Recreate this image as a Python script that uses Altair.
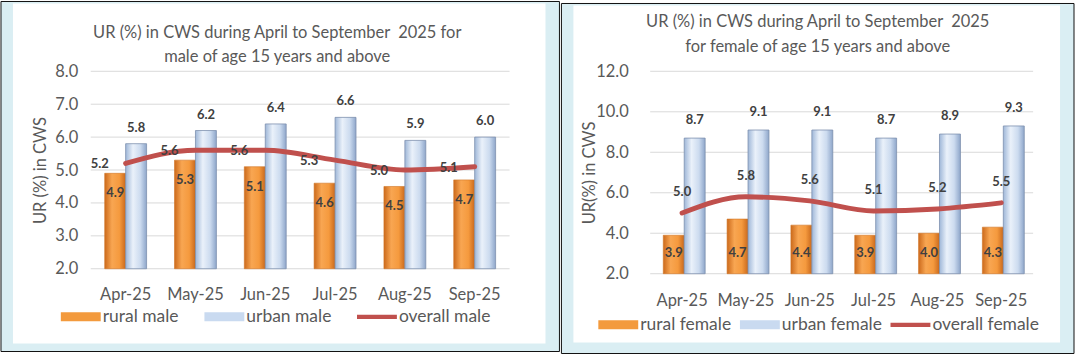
import altair as alt
import pandas as pd

months = ["Apr-25", "May-25", "Jun-25", "Jul-25", "Aug-25", "Sep-25"]

rural_male = [4.9, 5.3, 5.1, 4.6, 4.5, 4.7]
urban_male = [5.8, 6.2, 6.4, 6.6, 5.9, 6.0]
overall_male = [5.2, 5.6, 5.6, 5.3, 5.0, 5.1]

rural_female = [3.9, 4.7, 4.4, 3.9, 4.0, 4.3]
urban_female = [8.7, 9.1, 9.1, 8.7, 8.9, 9.3]
overall_female = [5.0, 5.8, 5.6, 5.1, 5.2, 5.5]

male_ticks = [2.0, 3.0, 4.0, 5.0, 6.0, 7.0, 8.0]
female_ticks = [2.0, 4.0, 6.0, 8.0, 10.0, 12.0]

male_names = ["rural male", "urban male", "overall male"]
female_names = ["rural female", "urban female", "overall female"]

male_title = ["UR (%) in CWS during April to September\u00a0 2025 for",
              "male of age 15 years and above"]
female_title = ["UR (%) in CWS during April to September\u00a0 2025",
                "for female of age 15 years and above"]

FONT = "Lato"
TXT = "#595959"
LBL = "#404040"
RED = "#C0504D"
GRID = "#D9D9D9"
FRAME_BG = "#DAEEF3"

rural_grad = alt.Gradient(
    gradient="linear", x1=0, x2=1, y1=0, y2=0,
    stops=[alt.GradientStop(color="#CC6A1C", offset=0),
           alt.GradientStop(color="#F8A652", offset=0.35),
           alt.GradientStop(color="#F59A3E", offset=0.7),
           alt.GradientStop(color="#C9691D", offset=1)])
urban_grad = alt.Gradient(
    gradient="linear", x1=0, x2=1, y1=0, y2=0,
    stops=[alt.GradientStop(color="#9FB7D8", offset=0),
           alt.GradientStop(color="#EAF1FA", offset=0.35),
           alt.GradientStop(color="#CCDBEF", offset=0.7),
           alt.GradientStop(color="#8EA6CA", offset=1)])

LEG_RECT = "M-2,-0.45H2V0.45H-2Z"
LEG_LINE = "M-2,-0.22H2V0.22H-2Z"


def one():
    return alt.Chart(pd.DataFrame({"a": [0]}))


def panel(rural, urban, overall, names, ydom, yticks, ytitle, title, g):
    rows = []
    for i, m in enumerate(months):
        rows.append({"month": m, "kind": "rural", "series": names[0], "value": rural[i]})
        rows.append({"month": m, "kind": "urban", "series": names[1], "value": urban[i]})
        rows.append({"month": m, "kind": "overall", "series": names[2], "value": overall[i]})
    df = pd.DataFrame(rows)
    base = alt.Chart(df)
    W, H = g["W"], g["H"]

    xenc = alt.X("month:N", sort=months,
                 scale=alt.Scale(paddingInner=g["pin"], paddingOuter=g["pin"] / 2),
                 axis=alt.Axis(title=None, labelAngle=0, domain=False, ticks=False,
                               labelPadding=g["xlp"], labelFont=FONT, labelFontSize=16.5,
                               labelColor=TXT, zindex=2))
    yscale = alt.Scale(domain=ydom, zero=False, nice=False)
    yaxis = alt.Axis(values=yticks, format=".1f", grid=False, domain=False, ticks=False,
                     title=ytitle, labelPadding=g["ylp"], labelFont=FONT, labelFontSize=16.5,
                     labelColor=TXT, titleFont=FONT, titleFontSize=16.5, titleColor=TXT,
                     titleFontWeight="normal", titleX=g["tx"], titleY=H / 2,
                     titleAngle=270, titleAlign="center", titleBaseline="middle",
                     zindex=2)
    yenc = alt.Y("value:Q", scale=yscale, axis=yaxis, title=ytitle)
    xoff = alt.XOffset("kind:N", scale=alt.Scale(domain=["rural", "urban"],
                                                 paddingInner=0, paddingOuter=0))

    o = g["outer"]
    outer = one().mark_rect(fill=FRAME_BG, stroke="#111111", strokeWidth=1).encode(
        x=alt.value(o[0]), x2=alt.value(o[1]), y=alt.value(o[2]), y2=alt.value(o[3]))
    w = g["inner"]
    inner = one().mark_rect(fill="white").encode(
        x=alt.value(w[0]), x2=alt.value(w[1]), y=alt.value(w[2]), y2=alt.value(w[3]))

    t1 = one().mark_text(text=title[0], font=FONT, fontSize=16.5, color=TXT,
                         align="center", baseline="middle").encode(
        x=alt.value(g["tcx"]), y=alt.value(g["t1y"]))
    t2 = one().mark_text(text=title[1], font=FONT, fontSize=16.5, color=TXT,
                         align="center", baseline="middle").encode(
        x=alt.value(g["tcx"]), y=alt.value(g["t2y"]))

    grid = alt.Chart(pd.DataFrame({"value": yticks})).mark_rule(
        color=GRID, strokeWidth=1).encode(
        y=yenc, x=alt.value(0), x2=alt.value(W))

    rbar = base.transform_filter(alt.datum.kind == "rural").mark_bar(
        fill=rural_grad, stroke="#D07424", strokeWidth=0.6).encode(
        x=xenc, xOffset=xoff, y=yenc, y2=alt.datum(ydom[0]))
    ubar = base.transform_filter(alt.datum.kind == "urban").mark_bar(
        fill=urban_grad, stroke="#7D91AE", strokeWidth=0.8).encode(
        x=xenc, xOffset=xoff, y=yenc, y2=alt.datum(ydom[0]))

    line = base.transform_filter(alt.datum.kind == "overall").mark_line(
        color=RED, strokeWidth=5, interpolate="monotone", strokeCap="round").encode(
        x=xenc, y=yenc)

    lab = dict(font=FONT, fontSize=13, fontWeight="bold", color=LBL,
               align="center", baseline="middle")
    if g["rural_at_base"]:
        rtxt = base.transform_filter(alt.datum.kind == "rural").mark_text(
            dy=g["rdy"], **lab).encode(
            x=xenc, xOffset=xoff, y=alt.datum(ydom[0]),
            text=alt.Text("value:Q", format=".1f"))
    else:
        rtxt = base.transform_filter(alt.datum.kind == "rural").mark_text(
            dy=g["rdy"], **lab).encode(
            x=xenc, xOffset=xoff, y=yenc, text=alt.Text("value:Q", format=".1f"))
    utxt = base.transform_filter(alt.datum.kind == "urban").mark_text(
        dy=g["udy"], **lab).encode(
        x=xenc, xOffset=xoff, y=yenc, text=alt.Text("value:Q", format=".1f"))
    otxt = base.transform_filter(alt.datum.kind == "overall").mark_text(
        dx=g["odx"], dy=g["ody"], **lab).encode(
        x=xenc, y=yenc, text=alt.Text("value:Q", format=".1f"))

    leg = alt.Legend(title=None, orient="none", legendX=g["lx"], legendY=g["ly"],
                     direction="horizontal", columns=3, symbolSize=400,
                     symbolOpacity=1, symbolStrokeWidth=0, labelFont=FONT,
                     labelFontSize=17.5, labelColor=TXT, labelOffset=12,
                     columnPadding=g["lcp"], labelLimit=0, zindex=2)
    legpts = base.mark_point(filled=True, opacity=0).encode(
        x=xenc, y=yenc,
        color=alt.Color("series:N", scale=alt.Scale(domain=names,
                        range=["#F39A3D", "#C9DAF0", RED]), legend=leg),
        shape=alt.Shape("series:N", scale=alt.Scale(domain=names,
                        range=[LEG_RECT, LEG_RECT, LEG_LINE]), legend=leg))

    return alt.layer(outer, inner, t1, t2, grid, rbar, ubar, line,
                     rtxt, utxt, otxt, legpts).properties(width=W, height=H)


left_geo = dict(W=420, H=198, pin=0.4, xlp=18, ylp=13, tx=-50,
                outer=(-90, 470, -70, 281), inner=(-78, 456, -68, 273),
                tcx=187, t1y=-38, t2y=-14,
                rural_at_base=False, rdy=20, udy=-16, odx=-26, ody=1,
                lx=-20, ly=236, lcp=25)
right_geo = dict(W=384, H=203, pin=0.41, xlp=19, ylp=22, tx=-61,
                 outer=(-89, 425, -68, 283), inner=(-77, 411, -66, 272),
                 tcx=168, t1y=-49, t2y=-24,
                 rural_at_base=True, rdy=-21, udy=-18, odx=0, ody=-21,
                 lx=-42, ly=244, lcp=8)

left = panel(rural_male, urban_male, overall_male, male_names, [2, 8], male_ticks,
             "UR (%) in CWS", male_title, left_geo)
right = panel(rural_female, urban_female, overall_female, female_names, [2, 12],
              female_ticks, "UR(%) in CWS", female_title, right_geo)

chart = alt.hconcat(left, right, spacing=0).resolve_scale(
    color="independent", shape="independent").resolve_legend(
    color="independent", shape="independent").configure(
    padding=0, background="white").configure_view(stroke=None)

chart.save("out.html", embed_options={"renderer": "svg", "actions": False})
